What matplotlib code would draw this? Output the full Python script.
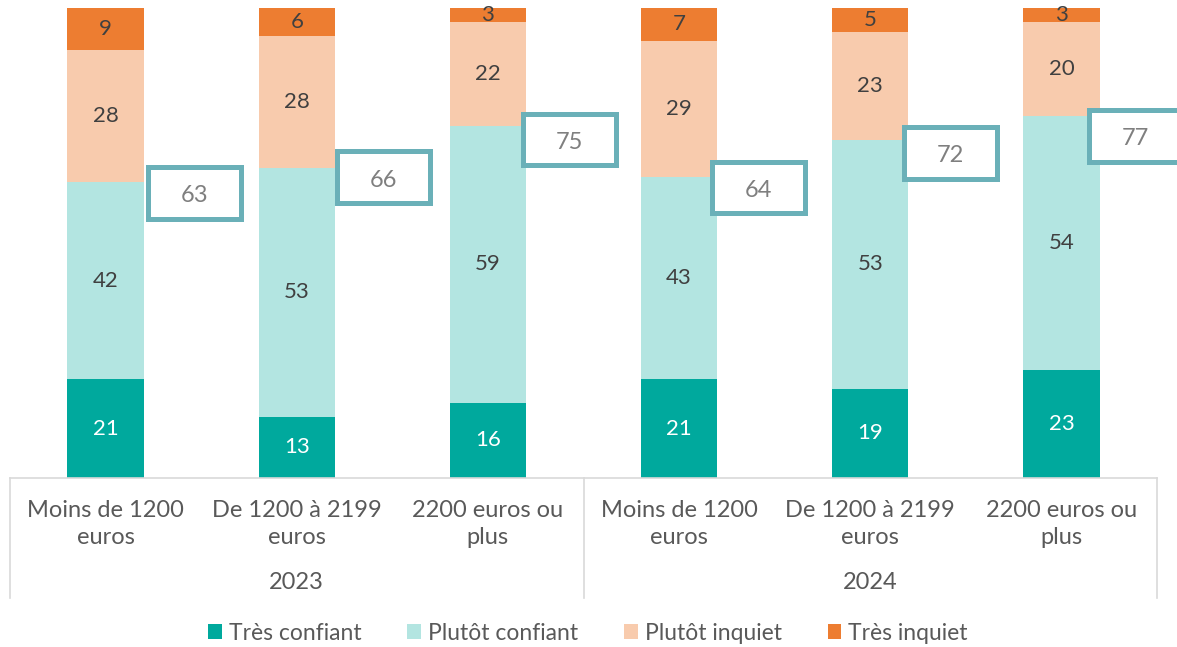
import matplotlib
matplotlib.use("Agg")
import matplotlib.pyplot as plt
from matplotlib.patches import Rectangle, Patch

plt.rcParams['font.family'] = ['Lato', 'DejaVu Sans']

years = ["2023", "2024"]
categories = ["Moins de 1200\neuros", "De 1200 à 2199\neuros", "2200 euros ou\nplus",
              "Moins de 1200\neuros", "De 1200 à 2199\neuros", "2200 euros ou\nplus"]
series_names = ["Très confiant", "Plutôt confiant", "Plutôt inquiet", "Très inquiet"]
tres_confiant = [21, 13, 16, 21, 19, 23]
plutot_confiant = [42, 53, 59, 43, 53, 54]
plutot_inquiet = [28, 28, 22, 29, 23, 20]
tres_inquiet = [9, 6, 3, 7, 5, 3]
total_confiant = [63, 66, 75, 64, 72, 77]

# layout offsets of the total boxes (relative to bar centre / total value)
box_dx = [0.463, 0.455, 0.426, 0.416, 0.421, 0.387]
box_dy = [-2.3, -2.0, -3.0, -2.2, -2.8, -4.2]

colors = ["#00A99D", "#B3E5E1", "#F8CBAD", "#ED7D31"]
label_colors = ["white", "#404040", "#404040", "#404040"]
box_color = "#6AB0B8"

W, H = 1177, 647
fig = plt.figure(figsize=(W / 100, H / 100), dpi=100)
ax = fig.add_axes([10 / W, (H - 478) / H, 1147 / W, 470 / H])
ax.set_xlim(-0.5, 5.5)
ax.set_ylim(0, 100)

series = [tres_confiant, plutot_confiant, plutot_inquiet, tres_inquiet]
x = list(range(len(categories)))
bottom = [0] * len(x)
for s, col, lc in zip(series, colors, label_colors):
    ax.bar(x, s, width=0.4, bottom=bottom, color=col, zorder=2)
    for xi, b, v in zip(x, bottom, s):
        ax.text(xi, b + v / 2, str(v), ha='center', va='center', fontsize=16,
                color=lc, zorder=3)
    bottom = [b + v for b, v in zip(bottom, s)]

# Total boxes
bw, bh = 0.486, 11.0
for xi, t, dx, dy in zip(x, total_confiant, box_dx, box_dy):
    cx, cy = xi + dx, t + dy
    r = Rectangle((cx - bw / 2, cy - bh / 2), bw, bh, facecolor='white',
                  edgecolor=box_color, linewidth=3.6, zorder=4, clip_on=False)
    ax.add_patch(r)
    ax.text(cx, cy - 0.6, str(t), ha='center', va='center', fontsize=17,
            color='#7F7F7F', zorder=5, clip_on=False)

for sp in ['top', 'right', 'left']:
    ax.spines[sp].set_visible(False)
ax.spines['bottom'].set_color('#D9D9D9')
ax.spines['bottom'].set_linewidth(1.2)
ax.set_xticks([])
ax.set_yticks([])

tr = ax.get_xaxis_transform()
for xv in [-0.5, 2.5, 5.5]:
    ax.plot([xv, xv], [0, -0.255], transform=tr, color='#D9D9D9', lw=1.2,
            clip_on=False)

for xi, c in zip(x, categories):
    ax.text(xi, -0.098, c, transform=tr, ha='center', va='center', fontsize=17,
            color='#595959', linespacing=1.4)
for gi, y in enumerate(years):
    ax.text(gi * 3 + 1, -0.223, y, transform=tr, ha='center', va='center',
            fontsize=17, color='#595959')

handles = [Patch(facecolor=c, edgecolor='none', label=n) for c, n in zip(colors, series_names)]
leg = fig.legend(handles=handles, loc='center', bbox_to_anchor=(588 / W, 1 - 633 / H),
                 ncol=4, frameon=False, fontsize=16.5, handlelength=0.6, handleheight=0.6,
                 handletextpad=0.3, columnspacing=2.0)
for t in leg.get_texts():
    t.set_color('#595959')

fig.savefig("out.png", dpi=100)
